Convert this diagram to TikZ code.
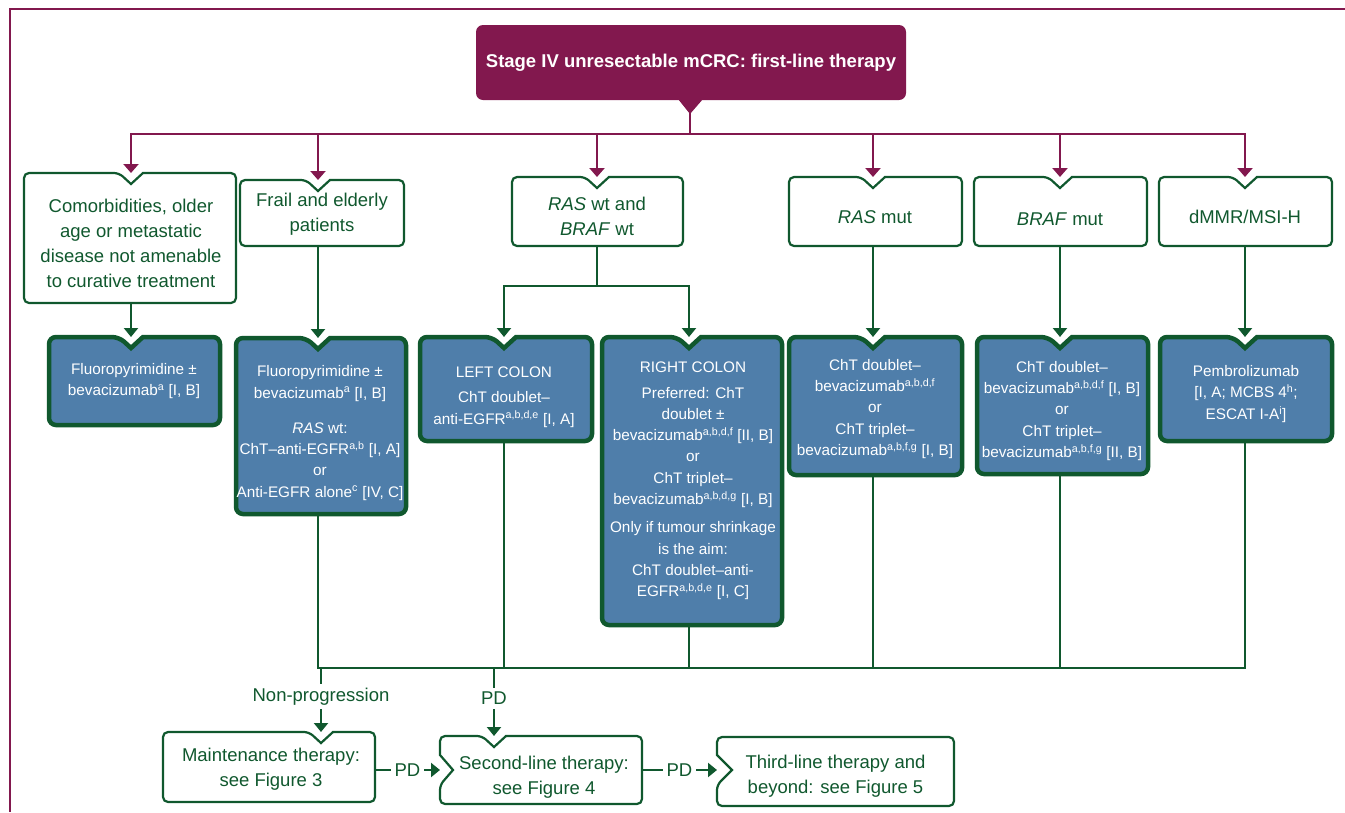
\documentclass[tikz,border=0pt]{standalone}
\usepackage{fontspec}
\setmainfont{Liberation Sans}
\usetikzlibrary{arrows.meta}

\definecolor{esmoPurple}{RGB}{130,24,78}
\definecolor{esmoGreen}{RGB}{16,88,46}
\definecolor{esmoBlue}{RGB}{79,126,170}

\tikzset{
  boxarea/.style={draw=none, inner sep=0pt, outer sep=0pt},
  gedge/.style={draw=esmoGreen, line width=2.2pt, rounded corners=5pt, line join=miter},
  bedge/.style={draw=esmoGreen, fill=esmoBlue, line width=4.5pt, rounded corners=7pt, line join=miter},
  gtext/.style={text=esmoGreen, align=center, font=\fontsize{18.5}{25}\selectfont, inner sep=0pt},
  btext/.style={text=white, align=center, font=\fontsize{15.3}{21.3}\selectfont, inner sep=0pt},
  titlebox/.style={fill=esmoPurple, text=white, rounded corners=7pt, minimum width=430pt,
    minimum height=75pt, inner sep=0pt, font=\fontsize{18.5}{22}\selectfont\bfseries},
  pline/.style={draw=esmoPurple, line width=2.4pt, line cap=rect},
  parrow/.style={pline, -{Triangle[width=15pt,length=9pt]}},
  gline/.style={draw=esmoGreen, line width=2.2pt, line cap=rect},
  garrow/.style={gline, -{Triangle[width=14pt,length=9pt]}},
  lab/.style={fill=white, text=esmoGreen, font=\fontsize{18.5}{22}\selectfont, inner sep=4pt},
}

% #1 outline style, #2 name, #3 left, #4 top, #5 right, #6 bottom, #7 notch x
\newcommand\notchbox[7]{%
  \node[boxarea, minimum width={(#5-#3)*1pt}, minimum height={(#6-#4)*1pt}]
    (#2) at ({(#3+#5)/2},{(#4+#6)/2}) {};
  \coordinate (#2-n) at (#7,#4);
  \path[#1] (#7+12,#4) -- (#5,#4) -- (#5,#6) -- (#3,#6) -- (#3,#4) -- (#7-12,#4)
    [sharp corners] -- (#7,#4+11) -- cycle;
}

\begin{document}
\begin{tikzpicture}[x=1pt, y=-1pt]
\useasboundingbox (0,0) rectangle (1345,812);

% outer frame
\draw[esmoPurple, line width=2.5pt] (1345,9) -- (10,9) -- (10,812);

% title
\node[titlebox] (title) at (691,62.5) {Stage IV unresectable mCRC: first-line therapy};
\fill[esmoPurple] (678,99) -- (703,99) -- (690,114) -- cycle;
\coordinate (tip) at (690,113);

% first row: patient groups
\notchbox{gedge}{comorb}{24}{173}{236}{303}{131}
\notchbox{gedge}{frail}{240}{180}{404}{246}{318}
\notchbox{gedge}{raswt}{512}{177}{683}{246}{597}
\notchbox{gedge}{rasmut}{789}{177}{962}{246}{873}
\notchbox{gedge}{brafmut}{974}{177}{1147}{246}{1060}
\notchbox{gedge}{dmmr}{1159}{177}{1332}{246}{1245}

\node[gtext] (comorb-t) at (131,243) {Comorbidities, older\\age or metastatic\\disease not amenable\\to curative treatment};
\node[gtext] (frail-t) at (322,214) {Frail and elderly\\patients};
\node[gtext] (raswt-t) at (597,216) {\textit{RAS} wt and\\\textit{BRAF} wt};
\node[gtext] (rasmut-t) at (875,217) {\textit{RAS} mut};
\node[gtext] (brafmut-t) at (1060,219) {\textit{BRAF} mut};
\node[gtext] (dmmr-t) at (1245,217) {dMMR/MSI-H};

% second row: treatment options
\notchbox{bedge}{fluA}{49}{337}{220}{425}{131}
\notchbox{bedge}{fluB}{236}{338}{406}{514}{318}
\notchbox{bedge}{left}{420}{337}{592}{441}{504}
\notchbox{bedge}{right}{602}{337}{782}{625}{689}
\notchbox{bedge}{rasmutB}{789}{337}{962}{475}{873}
\notchbox{bedge}{brafB}{977}{337}{1148}{474}{1060}
\notchbox{bedge}{pembro}{1160}{337}{1332}{441}{1245}

\node[btext] (fluA-t) at (134,381) {Fluoropyrimidine ±\\bevacizumab\textsuperscript{a} [I, B]};
\node[btext] (fluB-t) at (320,433) {Fluoropyrimidine ±\\bevacizumab\textsuperscript{a} [I, B]\\[14pt]\textit{RAS} wt:\\ChT–anti-EGFR\textsuperscript{a,b} [I, A]\\or\\Anti-EGFR alone\textsuperscript{c} [IV, C]};
\node[btext] (left-t) at (504,397) {LEFT COLON\\[4pt]ChT doublet–\\anti-EGFR\textsuperscript{a,b,d,e} [I, A]};
\node[btext] (right-t) at (693,481) {RIGHT COLON\\[4pt]Preferred: ChT\\doublet ±\\bevacizumab\textsuperscript{a,b,d,f} [II, B]\\or\\ChT triplet–\\bevacizumab\textsuperscript{a,b,d,g} [I, B]\\[7pt]Only if tumour shrinkage\\is the aim:\\ChT doublet–anti-\\EGFR\textsuperscript{a,b,d,e} [I, C]};
\node[btext] (rasmutB-t) at (875,409) {ChT doublet–\\bevacizumab\textsuperscript{a,b,d,f}\\or\\ChT triplet–\\bevacizumab\textsuperscript{a,b,f,g} [I, B]};
\node[btext] (brafB-t) at (1062,411) {ChT doublet–\\bevacizumab\textsuperscript{a,b,d,f} [I, B]\\or\\ChT triplet–\\bevacizumab\textsuperscript{a,b,f,g} [II, B]};
\node[btext] (pembro-t) at (1246,394) {Pembrolizumab\\{}[I, A; MCBS 4\textsuperscript{h};\\ESCAT I-A\textsuperscript{i}]};

% bottom row: later lines of therapy
\notchbox{gedge}{maint}{163}{732}{375}{802}{321}
\node[boxarea, minimum width=202pt, minimum height=68pt] (second) at (541,770) {};
\coordinate (second-n) at (494,736);
\coordinate (second-w) at (440,770);
\path[gedge] (494+12,736) -- (642,736) -- (642,804) -- (440,804) -- (440,785)
  [sharp corners] -- (453,770) -- (440,755) [rounded corners=5pt] -- (440,736) -- (494-12,736)
  [sharp corners] -- (494,747) -- cycle;
\node[boxarea, minimum width=237pt, minimum height=69pt] (third) at (835.5,771.5) {};
\coordinate (third-w) at (717,770);
\path[gedge] (835,737) -- (954,737) -- (954,806) -- (717,806) -- (717,785)
  [sharp corners] -- (732,770) -- (717,755) [rounded corners=5pt] -- (717,737) -- cycle;

\node[gtext] (maint-t) at (271,769.5) {Maintenance therapy:\\see Figure 3};
\node[gtext] (second-t) at (544,777) {Second-line therapy:\\see Figure 4};
\node[gtext] (third-t) at (835.5,776.5) {Third-line therapy and\\beyond: see Figure 5};

% purple distribution bus
\coordinate (busL) at (131,134);
\coordinate (busR) at (1245,134);
\draw[pline] (tip) -- (tip |- busL);
\draw[pline] (busL) -- (busR);
\foreach \n in {comorb,frail,raswt,rasmut,brafmut,dmmr}
  \draw[parrow] (\n-n |- busL) -- (\n-n);

% patient groups to treatments
\draw[garrow] (comorb-n |- comorb.south) -- (fluA-n);
\draw[garrow] (frail-n |- frail.south) -- (fluB-n);
\coordinate (split) at (597,286);
\draw[gline] (raswt-n |- raswt.south) -- (split);
\draw[garrow] (split) -| (left-n);
\draw[garrow] (split) -| (right-n);
\draw[garrow] (rasmut-n |- rasmut.south) -- (rasmutB-n);
\draw[garrow] (brafmut-n |- brafmut.south) -- (brafB-n);
\draw[garrow] (dmmr-n |- dmmr.south) -- (pembro-n);

% treatments to outcome bus
\coordinate (busE) at (1245,668);
\draw[gline] (fluB-n |- fluB.south) |- (busE) -- (pembro-n |- pembro.south);
\foreach \n in {left,right,rasmutB,brafB}
  \draw[gline] (\n-n |- \n.south) -- (\n-n |- busE);

% outcomes
\coordinate (np) at (321,668);
\coordinate (pd) at (494,668);
\draw[garrow] (np) -- node[lab, pos=0.45] {Non-progression} (maint-n);
\draw[garrow] (pd) -- node[lab, pos=0.45] {PD} (second-n);
\draw[garrow] (maint.east |- second-w) -- node[lab] {PD} (second-w);
\draw[garrow] (second.east |- third-w) -- node[lab] {PD} (third-w);
\end{tikzpicture}
\end{document}
